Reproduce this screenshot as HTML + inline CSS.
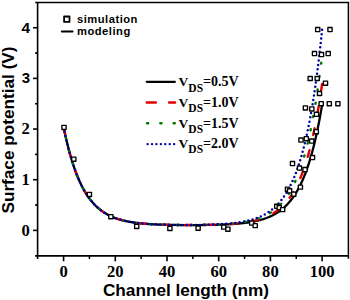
<!DOCTYPE html>
<html><head><meta charset="utf-8"><style>
html,body{margin:0;padding:0;background:#fff;width:350px;height:300px;overflow:hidden}
svg{display:block}
</style></head><body>
<svg width="350" height="300" viewBox="0 0 350 300">
<path d="M322.10 104.73 L321.45 108.59 L320.81 112.32 L320.16 115.93 L319.51 119.43 L318.87 122.82 L318.22 126.09 L317.58 129.27 L316.93 132.34 L316.28 135.31 L315.64 138.19 L314.99 140.97 L314.35 143.67 L313.70 146.28 L313.05 148.81 L312.41 151.26 L311.76 153.63 L311.11 155.92 L310.47 158.14 L309.82 160.29 L309.18 162.37 L308.53 164.38 L307.88 166.33 L307.24 168.22 L306.59 170.04 L305.94 171.81 L305.30 173.53 L304.65 175.18 L304.00 176.79 L303.36 178.34 L302.71 179.84 L302.07 181.30 L301.42 182.71 L300.77 184.07 L300.13 185.39 L299.48 186.67 L298.83 187.91 L298.19 189.11 L297.54 190.27 L296.90 191.39 L296.25 192.47 L295.60 193.53 L294.96 194.55 L294.31 195.53 L293.67 196.49 L293.02 197.41 L292.37 198.30 L291.73 199.17 L291.08 200.01 L290.43 200.82 L289.79 201.60 L289.14 202.36 L288.50 203.10 L287.85 203.81 L287.20 204.50 L286.56 205.17 L285.91 205.82 L285.26 206.44 L284.62 207.05 L283.97 207.63 L283.32 208.20 L282.68 208.75 L282.03 209.28 L281.39 209.80 L280.74 210.30 L280.09 210.78 L279.45 211.25 L278.80 211.70 L278.16 212.14 L277.51 212.56 L276.86 212.97 L276.22 213.37 L275.57 213.75 L274.92 214.12 L274.28 214.48 L273.63 214.83 L272.99 215.17 L272.34 215.50 L271.69 215.81 L271.05 216.12 L270.40 216.42 L269.75 216.70 L269.11 216.98 L268.46 217.25 L267.81 217.51 L267.17 217.76 L266.52 218.01 L265.88 218.24 L265.23 218.47 L264.58 218.69 L263.94 218.91 L263.29 219.11 L262.64 219.31 L262.00 219.51 L261.35 219.70 L260.71 219.88 L260.06 220.06 L259.41 220.23 L258.77 220.39 L258.12 220.55 L257.48 220.71 L256.83 220.86 L256.18 221.00 L255.54 221.14 L254.89 221.28 L254.24 221.41 L253.60 221.53 L252.95 221.66 L252.30 221.78 L251.66 221.89 L251.01 222.00 L250.37 222.11 L249.72 222.22 L249.07 222.32 L248.43 222.42 L247.78 222.51 L247.13 222.60 L246.49 222.69 L245.84 222.78 L245.20 222.86 L244.55 222.94 L243.90 223.02 L243.26 223.10 L242.61 223.17 L241.97 223.24 L241.32 223.31 L240.67 223.37 L240.03 223.44 L239.38 223.50 L238.73 223.56 L238.09 223.62 L237.44 223.67 L236.79 223.73 L236.15 223.78 L235.50 223.83 L234.86 223.88 L234.21 223.93 L233.56 223.97 L232.92 224.02 L232.27 224.06 L231.62 224.10 L230.98 224.14 L230.33 224.18 L229.69 224.22 L229.04 224.26 L228.39 224.29 L227.75 224.33 L227.10 224.36 L226.45 224.39 L225.81 224.42 L225.16 224.45 L224.52 224.48 L223.87 224.51 L223.22 224.53 L222.58 224.56 L221.93 224.58 L221.28 224.61 L220.64 224.63 L219.99 224.65 L219.35 224.67 L218.70 224.70 L218.05 224.72 L217.41 224.73 L216.76 224.75 L216.11 224.77 L215.47 224.79 L214.82 224.81 L214.18 224.82 L213.53 224.84 L212.88 224.85 L212.24 224.87 L211.59 224.88 L210.94 224.89 L210.30 224.90 L209.65 224.92 L209.01 224.93 L208.36 224.94 L207.71 224.95 L207.07 224.96 L206.42 224.97 L205.78 224.98 L205.13 224.99 L204.48 224.99 L203.84 225.00 L203.19 225.01 L202.54 225.02 L201.90 225.02 L201.25 225.03 L200.60 225.03 L199.96 225.04 L199.31 225.05 L198.67 225.05 L198.02 225.05 L197.37 225.06 L196.73 225.06 L196.08 225.06 L195.44 225.07 L194.79 225.07 L194.14 225.07 L193.50 225.07 L192.85 225.07 L192.20 225.07 L191.56 225.08 L190.91 225.08 L190.26 225.08 L189.62 225.07 L188.97 225.07 L188.33 225.07 L187.68 225.07 L187.03 225.07 L186.39 225.07 L185.74 225.06 L185.09 225.06 L184.45 225.06 L183.80 225.05 L183.16 225.05 L182.51 225.05 L181.86 225.04 L181.22 225.04 L180.57 225.03 L179.93 225.02 L179.28 225.02 L178.63 225.01 L177.99 225.00 L177.34 225.00 L176.69 224.99 L176.05 224.98 L175.40 224.97 L174.75 224.96 L174.11 224.95 L173.46 224.94 L172.82 224.93 L172.17 224.92 L171.52 224.91 L170.88 224.90 L170.23 224.88 L169.59 224.87 L168.94 224.86 L168.29 224.84 L167.65 224.83 L167.00 224.81 L166.35 224.79 L165.71 224.78 L165.06 224.76 L164.41 224.74 L163.77 224.72 L163.12 224.70 L162.48 224.68 L161.83 224.66 L161.18 224.64 L160.54 224.61 L159.89 224.59 L159.25 224.57 L158.60 224.54 L157.95 224.51 L157.31 224.49 L156.66 224.46 L156.01 224.43 L155.37 224.40 L154.72 224.37 L154.07 224.33 L153.43 224.30 L152.78 224.27 L152.14 224.23 L151.49 224.19 L150.84 224.15 L150.20 224.11 L149.55 224.07 L148.91 224.03 L148.26 223.99 L147.61 223.94 L146.97 223.89 L146.32 223.85 L145.67 223.80 L145.03 223.74 L144.38 223.69 L143.74 223.63 L143.09 223.58 L142.44 223.52 L141.80 223.46 L141.15 223.39 L140.50 223.33 L139.86 223.26 L139.21 223.19 L138.56 223.12 L137.92 223.04 L137.27 222.96 L136.63 222.89 L135.98 222.80 L135.33 222.72 L134.69 222.63 L134.04 222.54 L133.40 222.44 L132.75 222.35 L132.10 222.25 L131.46 222.14 L130.81 222.04 L130.16 221.93 L129.52 221.81 L128.87 221.69 L128.22 221.57 L127.58 221.45 L126.93 221.31 L126.29 221.18 L125.64 221.04 L124.99 220.90 L124.35 220.75 L123.70 220.60 L123.06 220.44 L122.41 220.27 L121.76 220.11 L121.12 219.93 L120.47 219.75 L119.82 219.56 L119.18 219.37 L118.53 219.17 L117.88 218.97 L117.24 218.75 L116.59 218.54 L115.95 218.31 L115.30 218.08 L114.65 217.83 L114.01 217.58 L113.36 217.33 L112.72 217.06 L112.07 216.78 L111.42 216.50 L110.78 216.21 L110.13 215.90 L109.48 215.59 L108.84 215.27 L108.19 214.93 L107.55 214.59 L106.90 214.23 L106.25 213.86 L105.61 213.48 L104.96 213.09 L104.31 212.68 L103.67 212.26 L103.02 211.83 L102.38 211.38 L101.73 210.92 L101.08 210.44 L100.44 209.94 L99.79 209.43 L99.14 208.91 L98.50 208.36 L97.85 207.80 L97.20 207.22 L96.56 206.62 L95.91 206.00 L95.27 205.36 L94.62 204.70 L93.97 204.01 L93.33 203.31 L92.68 202.58 L92.03 201.83 L91.39 201.05 L90.74 200.25 L90.10 199.41 L89.45 198.56 L88.80 197.67 L88.16 196.76 L87.51 195.81 L86.87 194.83 L86.22 193.83 L85.57 192.78 L84.93 191.71 L84.28 190.59 L83.63 189.45 L82.99 188.26 L82.34 187.03 L81.69 185.77 L81.05 184.46 L80.40 183.11 L79.76 181.71 L79.11 180.27 L78.46 178.78 L77.82 177.24 L77.17 175.65 L76.53 174.01 L75.88 172.32 L75.23 170.56 L74.59 168.75 L73.94 166.88 L73.29 164.95 L72.65 162.96 L72.00 160.90 L71.36 158.77 L70.71 156.57 L70.06 154.30 L69.42 151.95 L68.77 149.53 L68.12 147.02 L67.48 144.44 L66.83 141.77 L66.19 139.01 L65.54 136.15 L64.89 133.21 L64.25 130.17 L63.60 127.02" fill="none" stroke="#000" stroke-width="2.3" stroke-linecap="round"/>
<path d="M322.10 83.96 L321.45 88.48 L320.81 92.86 L320.16 97.09 L319.51 101.19 L318.87 105.16 L318.22 109.00 L317.58 112.72 L316.93 116.32 L316.28 119.80 L315.64 123.18 L314.99 126.44 L314.35 129.60 L313.70 132.66 L313.05 135.63 L312.41 138.49 L311.76 141.27 L311.11 143.96 L310.47 146.56 L309.82 149.08 L309.18 151.52 L308.53 153.88 L307.88 156.16 L307.24 158.37 L306.59 160.52 L305.94 162.59 L305.30 164.60 L304.65 166.54 L304.00 168.42 L303.36 170.24 L302.71 172.00 L302.07 173.71 L301.42 175.36 L300.77 176.96 L300.13 178.51 L299.48 180.00 L298.83 181.45 L298.19 182.86 L297.54 184.22 L296.90 185.53 L296.25 186.81 L295.60 188.04 L294.96 189.23 L294.31 190.39 L293.67 191.51 L293.02 192.59 L292.37 193.64 L291.73 194.65 L291.08 195.64 L290.43 196.59 L289.79 197.51 L289.14 198.40 L288.50 199.26 L287.85 200.10 L287.20 200.90 L286.56 201.69 L285.91 202.44 L285.26 203.18 L284.62 203.89 L283.97 204.58 L283.32 205.24 L282.68 205.88 L282.03 206.51 L281.39 207.11 L280.74 207.70 L280.09 208.26 L279.45 208.81 L278.80 209.34 L278.16 209.85 L277.51 210.35 L276.86 210.83 L276.22 211.30 L275.57 211.75 L274.92 212.18 L274.28 212.60 L273.63 213.01 L272.99 213.41 L272.34 213.79 L271.69 214.16 L271.05 214.52 L270.40 214.87 L269.75 215.21 L269.11 215.53 L268.46 215.85 L267.81 216.15 L267.17 216.45 L266.52 216.73 L265.88 217.01 L265.23 217.28 L264.58 217.54 L263.94 217.79 L263.29 218.03 L262.64 218.27 L262.00 218.49 L261.35 218.72 L260.71 218.93 L260.06 219.14 L259.41 219.34 L258.77 219.53 L258.12 219.72 L257.48 219.90 L256.83 220.07 L256.18 220.24 L255.54 220.41 L254.89 220.57 L254.24 220.72 L253.60 220.87 L252.95 221.01 L252.30 221.15 L251.66 221.29 L251.01 221.42 L250.37 221.55 L249.72 221.67 L249.07 221.79 L248.43 221.90 L247.78 222.02 L247.13 222.12 L246.49 222.23 L245.84 222.33 L245.20 222.43 L244.55 222.52 L243.90 222.61 L243.26 222.70 L242.61 222.79 L241.97 222.87 L241.32 222.95 L240.67 223.03 L240.03 223.10 L239.38 223.17 L238.73 223.24 L238.09 223.31 L237.44 223.38 L236.79 223.44 L236.15 223.50 L235.50 223.56 L234.86 223.62 L234.21 223.68 L233.56 223.73 L232.92 223.78 L232.27 223.83 L231.62 223.88 L230.98 223.93 L230.33 223.98 L229.69 224.02 L229.04 224.06 L228.39 224.10 L227.75 224.14 L227.10 224.18 L226.45 224.22 L225.81 224.26 L225.16 224.29 L224.52 224.32 L223.87 224.36 L223.22 224.39 L222.58 224.42 L221.93 224.45 L221.28 224.48 L220.64 224.50 L219.99 224.53 L219.35 224.56 L218.70 224.58 L218.05 224.60 L217.41 224.63 L216.76 224.65 L216.11 224.67 L215.47 224.69 L214.82 224.71 L214.18 224.73 L213.53 224.75 L212.88 224.77 L212.24 224.78 L211.59 224.80 L210.94 224.81 L210.30 224.83 L209.65 224.84 L209.01 224.86 L208.36 224.87 L207.71 224.88 L207.07 224.90 L206.42 224.91 L205.78 224.92 L205.13 224.93 L204.48 224.94 L203.84 224.95 L203.19 224.96 L202.54 224.97 L201.90 224.97 L201.25 224.98 L200.60 224.99 L199.96 225.00 L199.31 225.00 L198.67 225.01 L198.02 225.01 L197.37 225.02 L196.73 225.02 L196.08 225.03 L195.44 225.03 L194.79 225.03 L194.14 225.04 L193.50 225.04 L192.85 225.04 L192.20 225.04 L191.56 225.05 L190.91 225.05 L190.26 225.05 L189.62 225.05 L188.97 225.05 L188.33 225.05 L187.68 225.05 L187.03 225.05 L186.39 225.04 L185.74 225.04 L185.09 225.04 L184.45 225.04 L183.80 225.03 L183.16 225.03 L182.51 225.03 L181.86 225.02 L181.22 225.02 L180.57 225.01 L179.93 225.01 L179.28 225.00 L178.63 225.00 L177.99 224.99 L177.34 224.98 L176.69 224.98 L176.05 224.97 L175.40 224.96 L174.75 224.95 L174.11 224.94 L173.46 224.93 L172.82 224.92 L172.17 224.91 L171.52 224.90 L170.88 224.89 L170.23 224.87 L169.59 224.86 L168.94 224.85 L168.29 224.83 L167.65 224.82 L167.00 224.80 L166.35 224.79 L165.71 224.77 L165.06 224.75 L164.41 224.73 L163.77 224.71 L163.12 224.69 L162.48 224.67 L161.83 224.65 L161.18 224.63 L160.54 224.61 L159.89 224.58 L159.25 224.56 L158.60 224.53 L157.95 224.51 L157.31 224.48 L156.66 224.45 L156.01 224.42 L155.37 224.39 L154.72 224.36 L154.07 224.33 L153.43 224.30 L152.78 224.26 L152.14 224.23 L151.49 224.19 L150.84 224.15 L150.20 224.11 L149.55 224.07 L148.91 224.03 L148.26 223.98 L147.61 223.94 L146.97 223.89 L146.32 223.84 L145.67 223.79 L145.03 223.74 L144.38 223.69 L143.74 223.63 L143.09 223.57 L142.44 223.51 L141.80 223.45 L141.15 223.39 L140.50 223.32 L139.86 223.26 L139.21 223.19 L138.56 223.11 L137.92 223.04 L137.27 222.96 L136.63 222.88 L135.98 222.80 L135.33 222.72 L134.69 222.63 L134.04 222.54 L133.40 222.44 L132.75 222.35 L132.10 222.25 L131.46 222.14 L130.81 222.03 L130.16 221.92 L129.52 221.81 L128.87 221.69 L128.22 221.57 L127.58 221.44 L126.93 221.31 L126.29 221.18 L125.64 221.04 L124.99 220.90 L124.35 220.75 L123.70 220.60 L123.06 220.44 L122.41 220.27 L121.76 220.10 L121.12 219.93 L120.47 219.75 L119.82 219.56 L119.18 219.37 L118.53 219.17 L117.88 218.97 L117.24 218.75 L116.59 218.54 L115.95 218.31 L115.30 218.07 L114.65 217.83 L114.01 217.58 L113.36 217.33 L112.72 217.06 L112.07 216.78 L111.42 216.50 L110.78 216.21 L110.13 215.90 L109.48 215.59 L108.84 215.27 L108.19 214.93 L107.55 214.59 L106.90 214.23 L106.25 213.86 L105.61 213.48 L104.96 213.09 L104.31 212.68 L103.67 212.26 L103.02 211.83 L102.38 211.38 L101.73 210.92 L101.08 210.44 L100.44 209.94 L99.79 209.43 L99.14 208.91 L98.50 208.36 L97.85 207.80 L97.20 207.22 L96.56 206.62 L95.91 206.00 L95.27 205.36 L94.62 204.70 L93.97 204.01 L93.33 203.31 L92.68 202.58 L92.03 201.83 L91.39 201.05 L90.74 200.24 L90.10 199.41 L89.45 198.56 L88.80 197.67 L88.16 196.76 L87.51 195.81 L86.87 194.83 L86.22 193.83 L85.57 192.78 L84.93 191.71 L84.28 190.59 L83.63 189.45 L82.99 188.26 L82.34 187.03 L81.69 185.77 L81.05 184.46 L80.40 183.11 L79.76 181.71 L79.11 180.27 L78.46 178.78 L77.82 177.24 L77.17 175.65 L76.53 174.01 L75.88 172.32 L75.23 170.56 L74.59 168.75 L73.94 166.88 L73.29 164.95 L72.65 162.96 L72.00 160.90 L71.36 158.77 L70.71 156.57 L70.06 154.30 L69.42 151.95 L68.77 149.53 L68.12 147.02 L67.48 144.44 L66.83 141.77 L66.19 139.01 L65.54 136.15 L64.89 133.21 L64.25 130.17 L63.60 127.02" fill="none" stroke="#e00000" stroke-width="2.4" stroke-dasharray="6.8 15.7" stroke-dashoffset="0" stroke-linecap="round"/>
<path d="M322.10 55.59 L321.45 61.02 L320.81 66.27 L320.16 71.35 L319.51 76.27 L318.87 81.04 L318.22 85.65 L317.58 90.11 L316.93 94.44 L316.28 98.62 L315.64 102.67 L314.99 106.59 L314.35 110.39 L313.70 114.06 L313.05 117.62 L312.41 121.06 L311.76 124.40 L311.11 127.62 L310.47 130.75 L309.82 133.77 L309.18 136.70 L308.53 139.53 L307.88 142.27 L307.24 144.93 L306.59 147.50 L305.94 149.99 L305.30 152.40 L304.65 154.73 L304.00 156.99 L303.36 159.17 L302.71 161.29 L302.07 163.34 L301.42 165.32 L300.77 167.24 L300.13 169.10 L299.48 170.90 L298.83 172.64 L298.19 174.32 L297.54 175.96 L296.90 177.54 L296.25 179.07 L295.60 180.55 L294.96 181.98 L294.31 183.37 L293.67 184.71 L293.02 186.01 L292.37 187.27 L291.73 188.49 L291.08 189.66 L290.43 190.81 L289.79 191.91 L289.14 192.98 L288.50 194.02 L287.85 195.02 L287.20 195.99 L286.56 196.93 L285.91 197.84 L285.26 198.72 L284.62 199.57 L283.97 200.40 L283.32 201.20 L282.68 201.97 L282.03 202.72 L281.39 203.44 L280.74 204.14 L280.09 204.82 L279.45 205.48 L278.80 206.12 L278.16 206.73 L277.51 207.33 L276.86 207.91 L276.22 208.47 L275.57 209.01 L274.92 209.53 L274.28 210.04 L273.63 210.53 L272.99 211.00 L272.34 211.46 L271.69 211.91 L271.05 212.34 L270.40 212.76 L269.75 213.16 L269.11 213.55 L268.46 213.93 L267.81 214.30 L267.17 214.65 L266.52 214.99 L265.88 215.33 L265.23 215.65 L264.58 215.96 L263.94 216.26 L263.29 216.55 L262.64 216.84 L262.00 217.11 L261.35 217.37 L260.71 217.63 L260.06 217.88 L259.41 218.12 L258.77 218.35 L258.12 218.58 L257.48 218.79 L256.83 219.00 L256.18 219.21 L255.54 219.41 L254.89 219.60 L254.24 219.78 L253.60 219.96 L252.95 220.14 L252.30 220.30 L251.66 220.47 L251.01 220.62 L250.37 220.78 L249.72 220.92 L249.07 221.07 L248.43 221.20 L247.78 221.34 L247.13 221.47 L246.49 221.59 L245.84 221.71 L245.20 221.83 L244.55 221.94 L243.90 222.05 L243.26 222.16 L242.61 222.26 L241.97 222.36 L241.32 222.46 L240.67 222.55 L240.03 222.64 L239.38 222.73 L238.73 222.81 L238.09 222.90 L237.44 222.98 L236.79 223.05 L236.15 223.13 L235.50 223.20 L234.86 223.27 L234.21 223.33 L233.56 223.40 L232.92 223.46 L232.27 223.52 L231.62 223.58 L230.98 223.64 L230.33 223.69 L229.69 223.75 L229.04 223.80 L228.39 223.85 L227.75 223.90 L227.10 223.94 L226.45 223.99 L225.81 224.03 L225.16 224.07 L224.52 224.11 L223.87 224.15 L223.22 224.19 L222.58 224.23 L221.93 224.26 L221.28 224.30 L220.64 224.33 L219.99 224.36 L219.35 224.39 L218.70 224.42 L218.05 224.45 L217.41 224.48 L216.76 224.51 L216.11 224.53 L215.47 224.56 L214.82 224.58 L214.18 224.60 L213.53 224.63 L212.88 224.65 L212.24 224.67 L211.59 224.69 L210.94 224.71 L210.30 224.73 L209.65 224.74 L209.01 224.76 L208.36 224.78 L207.71 224.79 L207.07 224.81 L206.42 224.82 L205.78 224.84 L205.13 224.85 L204.48 224.86 L203.84 224.87 L203.19 224.88 L202.54 224.90 L201.90 224.91 L201.25 224.92 L200.60 224.93 L199.96 224.93 L199.31 224.94 L198.67 224.95 L198.02 224.96 L197.37 224.96 L196.73 224.97 L196.08 224.98 L195.44 224.98 L194.79 224.99 L194.14 224.99 L193.50 225.00 L192.85 225.00 L192.20 225.00 L191.56 225.01 L190.91 225.01 L190.26 225.01 L189.62 225.01 L188.97 225.01 L188.33 225.01 L187.68 225.01 L187.03 225.01 L186.39 225.01 L185.74 225.01 L185.09 225.01 L184.45 225.01 L183.80 225.01 L183.16 225.01 L182.51 225.00 L181.86 225.00 L181.22 225.00 L180.57 224.99 L179.93 224.99 L179.28 224.98 L178.63 224.98 L177.99 224.97 L177.34 224.96 L176.69 224.96 L176.05 224.95 L175.40 224.94 L174.75 224.93 L174.11 224.92 L173.46 224.91 L172.82 224.90 L172.17 224.89 L171.52 224.88 L170.88 224.87 L170.23 224.86 L169.59 224.85 L168.94 224.83 L168.29 224.82 L167.65 224.80 L167.00 224.79 L166.35 224.77 L165.71 224.76 L165.06 224.74 L164.41 224.72 L163.77 224.70 L163.12 224.68 L162.48 224.66 L161.83 224.64 L161.18 224.62 L160.54 224.60 L159.89 224.58 L159.25 224.55 L158.60 224.53 L157.95 224.50 L157.31 224.47 L156.66 224.45 L156.01 224.42 L155.37 224.39 L154.72 224.36 L154.07 224.32 L153.43 224.29 L152.78 224.26 L152.14 224.22 L151.49 224.18 L150.84 224.15 L150.20 224.11 L149.55 224.07 L148.91 224.02 L148.26 223.98 L147.61 223.93 L146.97 223.89 L146.32 223.84 L145.67 223.79 L145.03 223.74 L144.38 223.68 L143.74 223.63 L143.09 223.57 L142.44 223.51 L141.80 223.45 L141.15 223.39 L140.50 223.32 L139.86 223.25 L139.21 223.18 L138.56 223.11 L137.92 223.04 L137.27 222.96 L136.63 222.88 L135.98 222.80 L135.33 222.71 L134.69 222.63 L134.04 222.53 L133.40 222.44 L132.75 222.34 L132.10 222.24 L131.46 222.14 L130.81 222.03 L130.16 221.92 L129.52 221.81 L128.87 221.69 L128.22 221.57 L127.58 221.44 L126.93 221.31 L126.29 221.18 L125.64 221.04 L124.99 220.90 L124.35 220.75 L123.70 220.59 L123.06 220.44 L122.41 220.27 L121.76 220.10 L121.12 219.93 L120.47 219.75 L119.82 219.56 L119.18 219.37 L118.53 219.17 L117.88 218.97 L117.24 218.75 L116.59 218.53 L115.95 218.31 L115.30 218.07 L114.65 217.83 L114.01 217.58 L113.36 217.32 L112.72 217.06 L112.07 216.78 L111.42 216.50 L110.78 216.21 L110.13 215.90 L109.48 215.59 L108.84 215.27 L108.19 214.93 L107.55 214.59 L106.90 214.23 L106.25 213.86 L105.61 213.48 L104.96 213.09 L104.31 212.68 L103.67 212.26 L103.02 211.83 L102.38 211.38 L101.73 210.92 L101.08 210.44 L100.44 209.94 L99.79 209.43 L99.14 208.91 L98.50 208.36 L97.85 207.80 L97.20 207.22 L96.56 206.62 L95.91 206.00 L95.27 205.36 L94.62 204.70 L93.97 204.01 L93.33 203.31 L92.68 202.58 L92.03 201.83 L91.39 201.05 L90.74 200.24 L90.10 199.41 L89.45 198.56 L88.80 197.67 L88.16 196.76 L87.51 195.81 L86.87 194.83 L86.22 193.83 L85.57 192.78 L84.93 191.71 L84.28 190.59 L83.63 189.45 L82.99 188.26 L82.34 187.03 L81.69 185.77 L81.05 184.46 L80.40 183.11 L79.76 181.71 L79.11 180.27 L78.46 178.78 L77.82 177.24 L77.17 175.65 L76.53 174.01 L75.88 172.32 L75.23 170.56 L74.59 168.75 L73.94 166.88 L73.29 164.95 L72.65 162.96 L72.00 160.90 L71.36 158.77 L70.71 156.57 L70.06 154.30 L69.42 151.95 L68.77 149.53 L68.12 147.02 L67.48 144.44 L66.83 141.77 L66.19 139.01 L65.54 136.15 L64.89 133.21 L64.25 130.17 L63.60 127.02" fill="none" stroke="#007800" stroke-width="2.5" stroke-dasharray="1 12.5" stroke-dashoffset="6.40" stroke-linecap="round"/>
<path d="M322.10 29.76 L321.45 36.01 L320.81 42.06 L320.16 47.91 L319.51 53.58 L318.87 59.07 L318.22 64.39 L317.58 69.53 L316.93 74.51 L316.28 79.33 L315.64 84.00 L314.99 88.51 L314.35 92.89 L313.70 97.12 L313.05 101.22 L312.41 105.19 L311.76 109.03 L311.11 112.75 L310.47 116.34 L309.82 119.83 L309.18 123.20 L308.53 126.47 L307.88 129.63 L307.24 132.69 L306.59 135.65 L305.94 138.52 L305.30 141.29 L304.65 143.98 L304.00 146.58 L303.36 149.10 L302.71 151.54 L302.07 153.90 L301.42 156.18 L300.77 158.39 L300.13 160.53 L299.48 162.60 L298.83 164.61 L298.19 166.55 L297.54 168.43 L296.90 170.25 L296.25 172.01 L295.60 173.72 L294.96 175.37 L294.31 176.97 L293.67 178.52 L293.02 180.01 L292.37 181.46 L291.73 182.87 L291.08 184.23 L290.43 185.54 L289.79 186.82 L289.14 188.05 L288.50 189.24 L287.85 190.40 L287.20 191.52 L286.56 192.60 L285.91 193.65 L285.26 194.66 L284.62 195.64 L283.97 196.59 L283.32 197.51 L282.68 198.40 L282.03 199.27 L281.39 200.10 L280.74 200.91 L280.09 201.69 L279.45 202.45 L278.80 203.18 L278.16 203.89 L277.51 204.58 L276.86 205.25 L276.22 205.89 L275.57 206.51 L274.92 207.12 L274.28 207.70 L273.63 208.27 L272.99 208.81 L272.34 209.34 L271.69 209.86 L271.05 210.35 L270.40 210.83 L269.75 211.30 L269.11 211.75 L268.46 212.18 L267.81 212.61 L267.17 213.02 L266.52 213.41 L265.88 213.79 L265.23 214.16 L264.58 214.52 L263.94 214.87 L263.29 215.21 L262.64 215.53 L262.00 215.85 L261.35 216.15 L260.71 216.45 L260.06 216.73 L259.41 217.01 L258.77 217.28 L258.12 217.54 L257.48 217.79 L256.83 218.03 L256.18 218.27 L255.54 218.49 L254.89 218.71 L254.24 218.93 L253.60 219.13 L252.95 219.33 L252.30 219.53 L251.66 219.72 L251.01 219.90 L250.37 220.07 L249.72 220.24 L249.07 220.41 L248.43 220.57 L247.78 220.72 L247.13 220.87 L246.49 221.01 L245.84 221.15 L245.20 221.29 L244.55 221.42 L243.90 221.55 L243.26 221.67 L242.61 221.79 L241.97 221.90 L241.32 222.01 L240.67 222.12 L240.03 222.22 L239.38 222.32 L238.73 222.42 L238.09 222.52 L237.44 222.61 L236.79 222.70 L236.15 222.78 L235.50 222.86 L234.86 222.94 L234.21 223.02 L233.56 223.10 L232.92 223.17 L232.27 223.24 L231.62 223.31 L230.98 223.37 L230.33 223.44 L229.69 223.50 L229.04 223.56 L228.39 223.61 L227.75 223.67 L227.10 223.72 L226.45 223.78 L225.81 223.83 L225.16 223.87 L224.52 223.92 L223.87 223.97 L223.22 224.01 L222.58 224.05 L221.93 224.09 L221.28 224.13 L220.64 224.17 L219.99 224.21 L219.35 224.25 L218.70 224.28 L218.05 224.31 L217.41 224.35 L216.76 224.38 L216.11 224.41 L215.47 224.44 L214.82 224.46 L214.18 224.49 L213.53 224.52 L212.88 224.54 L212.24 224.56 L211.59 224.59 L210.94 224.61 L210.30 224.63 L209.65 224.65 L209.01 224.67 L208.36 224.69 L207.71 224.71 L207.07 224.73 L206.42 224.74 L205.78 224.76 L205.13 224.78 L204.48 224.79 L203.84 224.81 L203.19 224.82 L202.54 224.83 L201.90 224.84 L201.25 224.86 L200.60 224.87 L199.96 224.88 L199.31 224.89 L198.67 224.90 L198.02 224.91 L197.37 224.92 L196.73 224.92 L196.08 224.93 L195.44 224.94 L194.79 224.94 L194.14 224.95 L193.50 224.96 L192.85 224.96 L192.20 224.96 L191.56 224.97 L190.91 224.97 L190.26 224.98 L189.62 224.98 L188.97 224.98 L188.33 224.98 L187.68 224.98 L187.03 224.98 L186.39 224.99 L185.74 224.99 L185.09 224.98 L184.45 224.98 L183.80 224.98 L183.16 224.98 L182.51 224.98 L181.86 224.98 L181.22 224.97 L180.57 224.97 L179.93 224.97 L179.28 224.96 L178.63 224.96 L177.99 224.95 L177.34 224.94 L176.69 224.94 L176.05 224.93 L175.40 224.92 L174.75 224.92 L174.11 224.91 L173.46 224.90 L172.82 224.89 L172.17 224.88 L171.52 224.87 L170.88 224.86 L170.23 224.85 L169.59 224.83 L168.94 224.82 L168.29 224.81 L167.65 224.79 L167.00 224.78 L166.35 224.76 L165.71 224.75 L165.06 224.73 L164.41 224.71 L163.77 224.69 L163.12 224.68 L162.48 224.66 L161.83 224.64 L161.18 224.61 L160.54 224.59 L159.89 224.57 L159.25 224.55 L158.60 224.52 L157.95 224.49 L157.31 224.47 L156.66 224.44 L156.01 224.41 L155.37 224.38 L154.72 224.35 L154.07 224.32 L153.43 224.29 L152.78 224.25 L152.14 224.22 L151.49 224.18 L150.84 224.14 L150.20 224.10 L149.55 224.06 L148.91 224.02 L148.26 223.98 L147.61 223.93 L146.97 223.88 L146.32 223.83 L145.67 223.78 L145.03 223.73 L144.38 223.68 L143.74 223.62 L143.09 223.57 L142.44 223.51 L141.80 223.45 L141.15 223.38 L140.50 223.32 L139.86 223.25 L139.21 223.18 L138.56 223.11 L137.92 223.03 L137.27 222.96 L136.63 222.88 L135.98 222.80 L135.33 222.71 L134.69 222.62 L134.04 222.53 L133.40 222.44 L132.75 222.34 L132.10 222.24 L131.46 222.14 L130.81 222.03 L130.16 221.92 L129.52 221.81 L128.87 221.69 L128.22 221.57 L127.58 221.44 L126.93 221.31 L126.29 221.18 L125.64 221.04 L124.99 220.89 L124.35 220.75 L123.70 220.59 L123.06 220.43 L122.41 220.27 L121.76 220.10 L121.12 219.93 L120.47 219.75 L119.82 219.56 L119.18 219.37 L118.53 219.17 L117.88 218.96 L117.24 218.75 L116.59 218.53 L115.95 218.31 L115.30 218.07 L114.65 217.83 L114.01 217.58 L113.36 217.32 L112.72 217.06 L112.07 216.78 L111.42 216.50 L110.78 216.20 L110.13 215.90 L109.48 215.59 L108.84 215.26 L108.19 214.93 L107.55 214.58 L106.90 214.23 L106.25 213.86 L105.61 213.48 L104.96 213.09 L104.31 212.68 L103.67 212.26 L103.02 211.83 L102.38 211.38 L101.73 210.92 L101.08 210.44 L100.44 209.94 L99.79 209.43 L99.14 208.91 L98.50 208.36 L97.85 207.80 L97.20 207.22 L96.56 206.62 L95.91 206.00 L95.27 205.36 L94.62 204.70 L93.97 204.01 L93.33 203.31 L92.68 202.58 L92.03 201.83 L91.39 201.05 L90.74 200.24 L90.10 199.41 L89.45 198.56 L88.80 197.67 L88.16 196.76 L87.51 195.81 L86.87 194.83 L86.22 193.82 L85.57 192.78 L84.93 191.71 L84.28 190.59 L83.63 189.45 L82.99 188.26 L82.34 187.03 L81.69 185.77 L81.05 184.46 L80.40 183.11 L79.76 181.71 L79.11 180.27 L78.46 178.78 L77.82 177.24 L77.17 175.65 L76.53 174.01 L75.88 172.32 L75.23 170.56 L74.59 168.75 L73.94 166.88 L73.29 164.95 L72.65 162.96 L72.00 160.90 L71.36 158.77 L70.71 156.57 L70.06 154.30 L69.42 151.95 L68.77 149.53 L68.12 147.02 L67.48 144.44 L66.83 141.77 L66.19 139.01 L65.54 136.15 L64.89 133.21 L64.25 130.17 L63.60 127.02" fill="none" stroke="#0000aa" stroke-width="2.5" stroke-dasharray="0 4.42" stroke-linecap="round"/>
<rect x="61.90" y="125.35" width="4.2" height="4.1" fill="#fff" stroke="#000" stroke-width="1.35" stroke-linejoin="round"/>
<rect x="71.70" y="157.15" width="4.2" height="4.1" fill="#fff" stroke="#000" stroke-width="1.35" stroke-linejoin="round"/>
<rect x="87.30" y="192.35" width="4.2" height="4.1" fill="#fff" stroke="#000" stroke-width="1.35" stroke-linejoin="round"/>
<rect x="108.80" y="214.65" width="4.2" height="4.1" fill="#fff" stroke="#000" stroke-width="1.35" stroke-linejoin="round"/>
<rect x="134.60" y="224.35" width="4.2" height="4.1" fill="#fff" stroke="#000" stroke-width="1.35" stroke-linejoin="round"/>
<rect x="167.80" y="226.35" width="4.2" height="4.1" fill="#fff" stroke="#000" stroke-width="1.35" stroke-linejoin="round"/>
<rect x="196.00" y="226.15" width="4.2" height="4.1" fill="#fff" stroke="#000" stroke-width="1.35" stroke-linejoin="round"/>
<rect x="221.65" y="225.05" width="4.2" height="4.1" fill="#fff" stroke="#000" stroke-width="1.35" stroke-linejoin="round"/>
<rect x="225.80" y="227.15" width="4.2" height="4.1" fill="#fff" stroke="#000" stroke-width="1.35" stroke-linejoin="round"/>
<rect x="249.60" y="220.95" width="4.2" height="4.1" fill="#fff" stroke="#000" stroke-width="1.35" stroke-linejoin="round"/>
<rect x="253.10" y="223.55" width="4.2" height="4.1" fill="#fff" stroke="#000" stroke-width="1.35" stroke-linejoin="round"/>
<rect x="274.65" y="204.20" width="4.2" height="4.1" fill="#fff" stroke="#000" stroke-width="1.35" stroke-linejoin="round"/>
<rect x="277.15" y="205.45" width="4.2" height="4.1" fill="#fff" stroke="#000" stroke-width="1.35" stroke-linejoin="round"/>
<rect x="280.50" y="207.55" width="4.2" height="4.1" fill="#fff" stroke="#000" stroke-width="1.35" stroke-linejoin="round"/>
<rect x="285.40" y="187.15" width="4.2" height="4.1" fill="#fff" stroke="#000" stroke-width="1.35" stroke-linejoin="round"/>
<rect x="287.50" y="188.75" width="4.2" height="4.1" fill="#fff" stroke="#000" stroke-width="1.35" stroke-linejoin="round"/>
<rect x="291.65" y="192.15" width="4.2" height="4.1" fill="#fff" stroke="#000" stroke-width="1.35" stroke-linejoin="round"/>
<rect x="298.30" y="185.05" width="4.2" height="4.1" fill="#fff" stroke="#000" stroke-width="1.35" stroke-linejoin="round"/>
<rect x="290.40" y="161.45" width="4.2" height="4.1" fill="#fff" stroke="#000" stroke-width="1.35" stroke-linejoin="round"/>
<rect x="297.40" y="165.95" width="4.2" height="4.1" fill="#fff" stroke="#000" stroke-width="1.35" stroke-linejoin="round"/>
<rect x="302.90" y="167.45" width="4.2" height="4.1" fill="#fff" stroke="#000" stroke-width="1.35" stroke-linejoin="round"/>
<rect x="310.40" y="155.45" width="4.2" height="4.1" fill="#fff" stroke="#000" stroke-width="1.35" stroke-linejoin="round"/>
<rect x="298.90" y="137.95" width="4.2" height="4.1" fill="#fff" stroke="#000" stroke-width="1.35" stroke-linejoin="round"/>
<rect x="304.20" y="136.65" width="4.2" height="4.1" fill="#fff" stroke="#000" stroke-width="1.35" stroke-linejoin="round"/>
<rect x="309.60" y="138.95" width="4.2" height="4.1" fill="#fff" stroke="#000" stroke-width="1.35" stroke-linejoin="round"/>
<rect x="314.20" y="129.65" width="4.2" height="4.1" fill="#fff" stroke="#000" stroke-width="1.35" stroke-linejoin="round"/>
<rect x="314.40" y="112.25" width="4.2" height="4.1" fill="#fff" stroke="#000" stroke-width="1.35" stroke-linejoin="round"/>
<rect x="303.30" y="105.85" width="4.2" height="4.1" fill="#fff" stroke="#000" stroke-width="1.35" stroke-linejoin="round"/>
<rect x="309.70" y="106.85" width="4.2" height="4.1" fill="#fff" stroke="#000" stroke-width="1.35" stroke-linejoin="round"/>
<rect x="319.10" y="101.65" width="4.2" height="4.1" fill="#fff" stroke="#000" stroke-width="1.35" stroke-linejoin="round"/>
<rect x="327.20" y="101.65" width="4.2" height="4.1" fill="#fff" stroke="#000" stroke-width="1.35" stroke-linejoin="round"/>
<rect x="335.80" y="101.65" width="4.2" height="4.1" fill="#fff" stroke="#000" stroke-width="1.35" stroke-linejoin="round"/>
<rect x="317.40" y="91.45" width="4.2" height="4.1" fill="#fff" stroke="#000" stroke-width="1.35" stroke-linejoin="round"/>
<rect x="308.10" y="76.45" width="4.2" height="4.1" fill="#fff" stroke="#000" stroke-width="1.35" stroke-linejoin="round"/>
<rect x="315.10" y="76.45" width="4.2" height="4.1" fill="#fff" stroke="#000" stroke-width="1.35" stroke-linejoin="round"/>
<rect x="323.40" y="81.15" width="4.2" height="4.1" fill="#fff" stroke="#000" stroke-width="1.35" stroke-linejoin="round"/>
<rect x="312.40" y="51.45" width="4.2" height="4.1" fill="#fff" stroke="#000" stroke-width="1.35" stroke-linejoin="round"/>
<rect x="319.40" y="52.45" width="4.2" height="4.1" fill="#fff" stroke="#000" stroke-width="1.35" stroke-linejoin="round"/>
<rect x="326.10" y="51.45" width="4.2" height="4.1" fill="#fff" stroke="#000" stroke-width="1.35" stroke-linejoin="round"/>
<rect x="315.60" y="27.45" width="4.2" height="4.1" fill="#fff" stroke="#000" stroke-width="1.35" stroke-linejoin="round"/>
<rect x="327.90" y="27.45" width="4.2" height="4.1" fill="#fff" stroke="#000" stroke-width="1.35" stroke-linejoin="round"/>
<g stroke="#000" stroke-width="1.8" fill="none">
<path d="M35.2 2.6 H349.1" stroke-width="1.5"/>
<path d="M37.6 1.9 V258.9" stroke-width="1.6"/>
<path d="M35.1 255.9 H349.1" stroke-width="1.8"/>
<path d="M348.4 1.9 V258.7" stroke-width="1.5"/>
<path d="M33 230.37 H37.6" stroke-width="1.6"/>
<path d="M33 179.71 H37.6" stroke-width="1.6"/>
<path d="M33 129.05 H37.6" stroke-width="1.6"/>
<path d="M33 78.39 H37.6" stroke-width="1.6"/>
<path d="M33 27.73 H37.6" stroke-width="1.6"/>
<path d="M35 205.04 H37.6" stroke-width="1.6"/>
<path d="M35 154.38 H37.6" stroke-width="1.6"/>
<path d="M35 103.72 H37.6" stroke-width="1.6"/>
<path d="M35 53.06 H37.6" stroke-width="1.6"/>
<path d="M63.60 255.9 V261.3" stroke-width="1.6"/>
<path d="M115.30 255.9 V261.3" stroke-width="1.6"/>
<path d="M167.00 255.9 V261.3" stroke-width="1.6"/>
<path d="M218.70 255.9 V261.3" stroke-width="1.6"/>
<path d="M270.40 255.9 V261.3" stroke-width="1.6"/>
<path d="M322.10 255.9 V261.3" stroke-width="1.6"/>
<path d="M89.45 255.9 V259" stroke-width="1.5"/>
<path d="M141.15 255.9 V259" stroke-width="1.5"/>
<path d="M192.85 255.9 V259" stroke-width="1.5"/>
<path d="M244.55 255.9 V259" stroke-width="1.5"/>
<path d="M296.25 255.9 V259" stroke-width="1.5"/>
</g>
<g font-family="Liberation Serif, serif" font-weight="bold" font-size="16.6" fill="#000">
<text x="29.8" y="235.67" text-anchor="end">0</text>
<text x="29.8" y="185.01" text-anchor="end">1</text>
<text x="29.8" y="134.35" text-anchor="end">2</text>
<text x="30.1" y="83.29" text-anchor="end" font-family="Liberation Sans, sans-serif" font-size="15">3</text>
<text x="30.1" y="32.63" text-anchor="end" font-family="Liberation Sans, sans-serif" font-size="15.5">4</text>
<text x="63.60" y="277" text-anchor="middle">0</text>
<text x="115.30" y="277" text-anchor="middle">20</text>
<text x="167.00" y="277" text-anchor="middle">40</text>
<text x="218.70" y="277" text-anchor="middle">60</text>
<text x="270.40" y="277" text-anchor="middle">80</text>
<text x="322.10" y="277" text-anchor="middle">100</text>
</g>
<text x="186" y="296" text-anchor="middle" font-family="Liberation Sans, sans-serif" font-weight="bold" font-size="17.2">Channel length (nm)</text>
<text transform="translate(14 130) rotate(-90)" text-anchor="middle" font-family="Liberation Sans, sans-serif" font-weight="bold" font-size="17.2">Surface potential (V)</text>
<rect x="64.1" y="16.5" width="5.4" height="5.4" fill="#fff" stroke="#000" stroke-width="1.8" stroke-linejoin="round"/>
<path d="M61.8 31.5 H72.6" stroke="#000" stroke-width="1.9" stroke-linecap="round"/>
<g font-family="Liberation Sans, sans-serif" font-weight="bold" font-size="11.2" letter-spacing="0.5" fill="#000">
<text x="77.0" y="22.8">simulation</text>
<text x="77.0" y="34.6">modeling</text>
</g>
<path d="M146.8 81.85 H174.8" stroke="#000" stroke-width="2.3" stroke-linecap="round"/>
<path d="M146.8 102.6 H175" stroke="#e00000" stroke-width="2.5" stroke-dasharray="9 13.3" stroke-linecap="round"/>
<path d="M147.1 123.3 H175" stroke="#007800" stroke-width="2.6" stroke-dasharray="1 12.3" stroke-linecap="round"/>
<path d="M147.6 144.1 H174.5" stroke="#0000aa" stroke-width="2.4" stroke-dasharray="0 4.42" stroke-linecap="round"/>
<g font-family="Liberation Serif, serif" font-weight="bold" font-size="13.5" fill="#000">
<text x="178.6" y="86.00">V<tspan font-size="11.5" dy="5.6">DS</tspan><tspan dy="-5.6" font-size="14">=0.5V</tspan></text>
<text x="178.6" y="106.60">V<tspan font-size="11.5" dy="5.6">DS</tspan><tspan dy="-5.6" font-size="14">=1.0V</tspan></text>
<text x="178.6" y="127.70">V<tspan font-size="11.5" dy="5.6">DS</tspan><tspan dy="-5.6" font-size="14">=1.5V</tspan></text>
<text x="178.6" y="147.70">V<tspan font-size="11.5" dy="5.6">DS</tspan><tspan dy="-5.6" font-size="14">=2.0V</tspan></text>
</g>
</svg>
</body></html>
